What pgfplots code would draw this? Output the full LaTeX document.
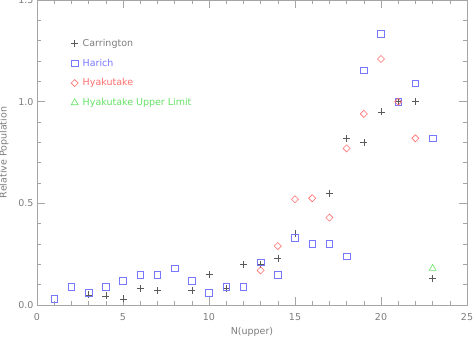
\documentclass[border=0pt]{standalone}
\usepackage{fontspec}
\setmainfont{DejaVu Sans}
\usepackage{pgfplots}
\pgfplotsset{compat=1.18}
\definecolor{carr}{RGB}{90,90,90}
\definecolor{harich}{RGB}{120,120,255}
\definecolor{hyak}{RGB}{255,110,110}
\definecolor{upper}{RGB}{100,225,100}
\definecolor{axiscol}{RGB}{165,165,165}
\definecolor{textcol}{RGB}{125,125,125}

\begin{document}
\begin{tikzpicture}
\begin{axis}[
  name=ax, scale only axis,
  width=430pt, height=305pt,
  xmin=0, xmax=25, ymin=0, ymax=1.5,
  xtick={0,5,10,15,20,25}, minor x tick num=4,
  ytick={0,0.5,1.0,1.5}, minor y tick num=4,
  yticklabel style={/pgf/number format/fixed, /pgf/number format/fixed zerofill,
    /pgf/number format/precision=1},
  /pgf/number format/assume math mode=true,
  tick align=inside, major tick length=8pt, minor tick length=4pt,
  axis line style={axiscol, line width=0.6pt},
  every tick/.style={axiscol, line width=0.6pt},
  tick label style={font=\fontsize{9.5}{11}\selectfont, text=textcol},
  xticklabel style={yshift=-5pt},
  label style={font=\fontsize{9.5}{11}\selectfont, text=textcol},
  xlabel={N(upper)}, ylabel={Relative Population},
  xlabel style={yshift=0pt},
  ylabel style={yshift=3pt},
  legend style={at={(0.072,0.885)}, anchor=north west, draw=none, fill=none,
    font=\fontsize{9.5}{11}\selectfont, row sep=7pt, cells={anchor=west},
    nodes={inner xsep=4.5pt}},
  legend cell align=left,
]
\addplot[only marks, mark=+, mark size=3.5pt, carr, line width=0.6pt]
  coordinates {(3,0.05)(4,0.045)(5,0.03)(6,0.08)(7,0.07)(9,0.07)(10,0.15)
    (11,0.08)(12,0.20)(13,0.20)(14,0.23)(15,0.35)(17,0.55)(18,0.82)
    (19,0.80)(20,0.95)(21,1.00)(22,1.00)(23,0.13)};
\addlegendentry{\textcolor{textcol}{Carrington}}
\addplot[only marks, mark=square, mark size=3.3pt, harich, line width=0.6pt]
  coordinates {(1,0.03)(2,0.09)(3,0.06)(4,0.09)(5,0.12)(6,0.15)(7,0.15)
    (8,0.18)(9,0.12)(10,0.06)(11,0.09)(12,0.09)(13,0.21)(14,0.15)
    (15,0.33)(16,0.30)(17,0.30)(18,0.24)(19,1.155)(20,1.335)(21,1.00)
    (22,1.09)(23,0.82)};
\addlegendentry{\textcolor{harich}{Harich}}
\addplot[only marks, mark=square, mark size=2.5pt, mark options={rotate=45},
  hyak, line width=0.6pt]
  coordinates {(13,0.17)(14,0.29)(15,0.52)(16,0.525)(17,0.43)(18,0.77)
    (19,0.94)(20,1.21)(21,1.00)(22,0.82)};
\addlegendentry{\textcolor{hyak}{Hyakutake}}
\addplot[only marks, mark=triangle, mark size=4pt, upper, line width=0.6pt]
  coordinates {(23,0.18)};
\addlegendentry{\textcolor{upper}{Hyakutake Upper Limit}}
\end{axis}
\pgfresetboundingbox
\path[use as bounding box] ([shift={(-37pt,-32pt)}]ax.south west)
  rectangle ([shift={(6pt,0pt)}]ax.north east);
\end{tikzpicture}
\end{document}
